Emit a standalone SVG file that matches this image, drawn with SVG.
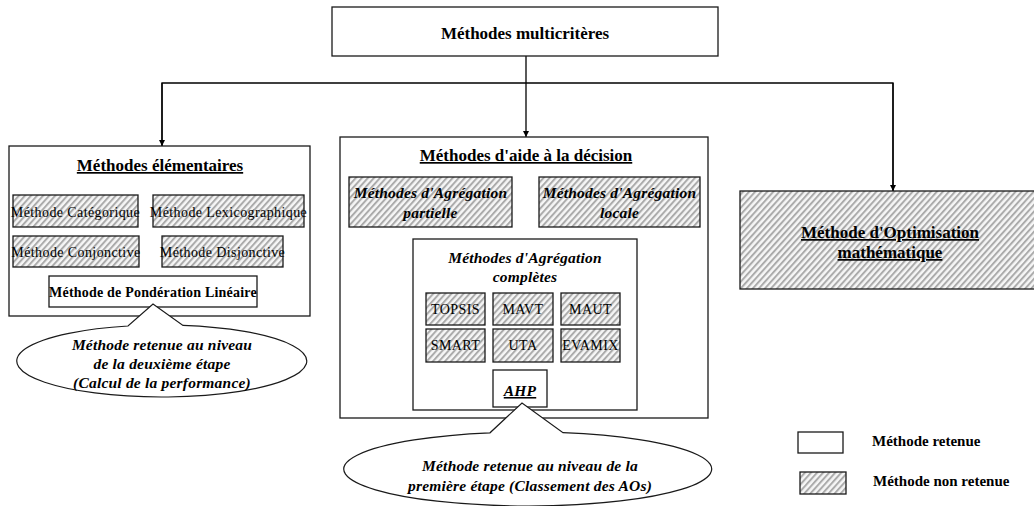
<svg xmlns="http://www.w3.org/2000/svg" width="1034" height="506" viewBox="0 0 1034 506">
  <style>
    .box { fill: #ffffff; stroke: #1a1a1a; stroke-width: 1.3; }
    .hatch { fill: url(#stripes); stroke: #1a1a1a; stroke-width: 1.3; }
    .link { fill: none; stroke: #000000; stroke-width: 1.3; }
    .callout { fill: #ffffff; stroke: #1a1a1a; stroke-width: 1.2; }
    text { font-family: "Liberation Serif", "Times New Roman", serif; fill: #000000; text-anchor: middle; }
    .title { font-size: 17px; font-weight: bold; }
    .ul { text-decoration: underline; }
    .item { font-size: 14px; letter-spacing: 0.4px; }
    .bi { font-size: 15.5px; font-weight: bold; font-style: italic; letter-spacing: 0.2px; }
    .bold14 { font-size: 14px; font-weight: bold; letter-spacing: 0.2px; }
    .legend { font-size: 15px; font-weight: bold; text-anchor: start; }
  </style>
  <defs>
    <pattern id="stripes" patternUnits="userSpaceOnUse" width="4.5" height="10" patternTransform="rotate(42)">
      <rect x="0" y="0" width="4.5" height="10" fill="#f6f6f6"/>
      <rect x="0" y="0" width="2" height="10" fill="#ababab"/>
    </pattern>
    <marker id="arrow" viewBox="0 0 8 8" refX="8" refY="4" markerWidth="6" markerHeight="6" orient="auto" markerUnits="userSpaceOnUse">
      <path d="M0,0 L8,4 L0,8 Z" fill="#000000"/>
    </marker>
  </defs>

  <!-- connectors -->
  <g id="connectors">
    <line class="link" x1="526" y1="56" x2="526" y2="137" marker-end="url(#arrow)"/>
    <polyline class="link" points="162,146 162,83 893,83 893,191"/>
    <line class="link" x1="162" y1="83" x2="162" y2="146" marker-end="url(#arrow)"/>
    <line class="link" x1="893" y1="83" x2="893" y2="191" marker-end="url(#arrow)"/>
  </g>

  <!-- root -->
  <g id="multicriteres">
    <rect class="box" x="332" y="7" width="386" height="49"/>
    <text class="title" x="525" y="39" font-size="18">Méthodes multicritères</text>
  </g>

  <!-- elementary methods -->
  <g id="elementaires">
    <rect class="box" x="9" y="146" width="301" height="170"/>
    <text class="title ul" x="160" y="171">Méthodes élémentaires</text>
  </g>
  <g id="categorique">
    <rect class="hatch" x="13" y="195" width="125" height="32"/>
    <text class="item" x="75.5" y="217">Méthode Catégorique</text>
  </g>
  <g id="lexicographique">
    <rect class="hatch" x="153" y="195" width="151" height="32"/>
    <text class="item" x="228.5" y="217">Méthode Lexicographique</text>
  </g>
  <g id="conjonctive">
    <rect class="hatch" x="13" y="236" width="126" height="31"/>
    <text class="item" x="76" y="257">Méthode Conjonctive</text>
  </g>
  <g id="disjonctive">
    <rect class="hatch" x="162" y="236" width="121" height="31"/>
    <text class="item" x="222.5" y="257">Méthode Disjonctive</text>
  </g>
  <g id="ponderation">
    <rect class="box" x="49" y="276" width="208" height="31"/>
    <text class="bold14" x="153" y="297">Méthode de Pondération Linéaire</text>
  </g>
  <g id="note-deuxieme">
    <path class="callout" d="M183,325.4 A145,36 0 1 1 128,326 L153,304 Z"/>
    <text class="bi" x="162" y="350">Méthode retenue au niveau</text>
    <text class="bi" x="162" y="369">de la deuxième étape</text>
    <text class="bi" x="162" y="388">(Calcul de la performance)</text>
  </g>

  <!-- decision aid methods -->
  <g id="aide-decision">
    <rect class="box" x="340" y="137" width="368" height="281"/>
    <text class="title ul" x="526" y="161">Méthodes d'aide à la décision</text>
  </g>
  <g id="agregation-partielle">
    <rect class="hatch" x="349" y="177" width="163" height="50"/>
    <text class="bi" x="430.5" y="198">Méthodes d'Agrégation</text>
    <text class="bi" x="430.5" y="218">partielle</text>
  </g>
  <g id="agregation-locale">
    <rect class="hatch" x="539" y="177" width="161" height="50"/>
    <text class="bi" x="619.5" y="198">Méthodes d'Agrégation</text>
    <text class="bi" x="619.5" y="218">locale</text>
  </g>
  <g id="agregation-complete">
    <rect class="box" x="413" y="239" width="224" height="171"/>
    <text class="bi" x="525" y="263">Méthodes d'Agrégation</text>
    <text class="bi" x="525" y="282">complètes</text>
  </g>
  <g id="topsis">
    <rect class="hatch" x="426" y="293" width="59" height="32"/>
    <text class="item" x="455.5" y="314">TOPSIS</text>
  </g>
  <g id="mavt">
    <rect class="hatch" x="493" y="293" width="60" height="32"/>
    <text class="item" x="523" y="314">MAVT</text>
  </g>
  <g id="maut">
    <rect class="hatch" x="561" y="293" width="59" height="32"/>
    <text class="item" x="590.5" y="314">MAUT</text>
  </g>
  <g id="smart">
    <rect class="hatch" x="426" y="329" width="59" height="33"/>
    <text class="item" x="455.5" y="350">SMART</text>
  </g>
  <g id="uta">
    <rect class="hatch" x="493" y="329" width="60" height="33"/>
    <text class="item" x="523" y="350">UTA</text>
  </g>
  <g id="evamix">
    <rect class="hatch" x="561" y="329" width="59" height="33"/>
    <text class="item" x="590.5" y="350" letter-spacing="0">EVAMIX</text>
  </g>
  <g id="ahp">
    <rect class="box" x="493" y="370" width="54" height="37"/>
    <text class="bi ul" x="520" y="396">AHP</text>
  </g>
  <g id="note-premiere">
    <path class="callout" d="M563,432.7 A184,37 0 1 1 490,432.8 L522,403 Z"/>
    <text class="bi" x="530" y="471">Méthode retenue au niveau de la</text>
    <text class="bi" x="530" y="491">première étape (Classement des AOs)</text>
  </g>

  <!-- mathematical optimisation -->
  <g id="optimisation">
    <rect class="hatch" x="740" y="191" width="300" height="98"/>
    <text class="title ul" x="890" y="238">Méthode d'Optimisation</text>
    <text class="title ul" x="890" y="258">mathématique</text>
  </g>

  <!-- legend -->
  <g id="legende-retenue">
    <rect class="box" x="798" y="432" width="45" height="21"/>
    <text class="legend" x="872" y="446">Méthode retenue</text>
  </g>
  <g id="legende-non-retenue">
    <rect class="hatch" x="800" y="472" width="46" height="22"/>
    <text class="legend" x="873" y="486">Méthode non retenue</text>
  </g>
</svg>
